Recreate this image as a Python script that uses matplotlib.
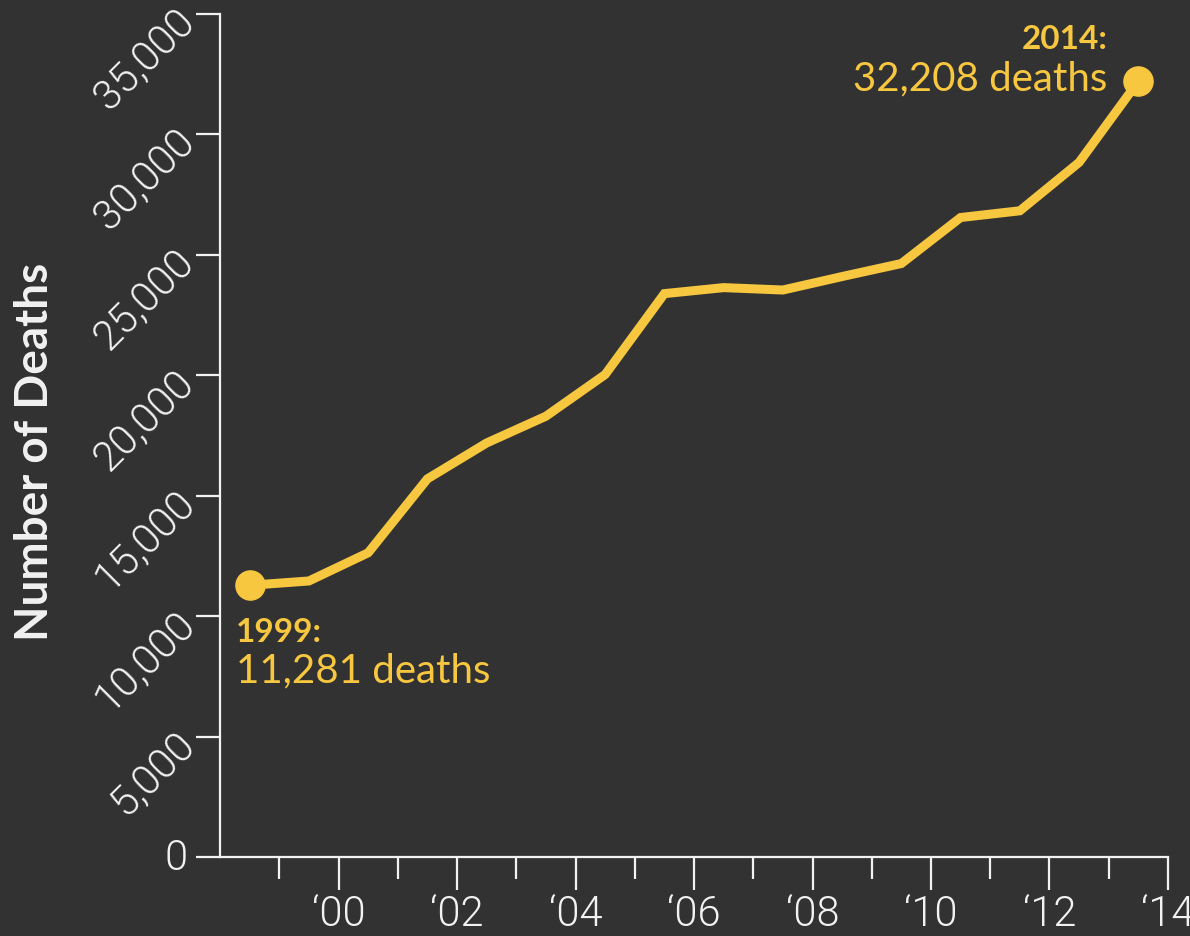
import matplotlib
matplotlib.use("Agg")
import matplotlib.pyplot as plt
from matplotlib import font_manager as fm

years = [1999, 2000, 2001, 2002, 2003, 2004, 2005, 2006, 2007,
         2008, 2009, 2010, 2011, 2012, 2013, 2014]
deaths = [11281, 11460, 12630, 15700, 17190, 18300, 20030, 23390, 23640,
          23540, 24100, 24640, 26550, 26830, 28840, 32208]
y_ticks = [0, 5000, 10000, 15000, 20000, 25000, 30000, 35000]
y_tick_labels = ["0", "5,000", "10,000", "15,000", "20,000", "25,000", "30,000", "35,000"]
x_major = [2000, 2002, 2004, 2006, 2008, 2010, 2012, 2014]
x_major_labels = ["\u201800", "\u201802", "\u201804", "\u201806", "\u201808", "\u201810", "\u201812", "\u201814"]
x_minor = [1999, 2001, 2003, 2005, 2007, 2009, 2011, 2013]

BG = "#323232"
YEL = "#F7C740"
FG = "#F2F2F2"

names = {f.name for f in fm.fontManager.ttflist}
tick_fam = "Roboto" if "Roboto" in names else "DejaVu Sans"
fam = "Lato" if "Lato" in names else "DejaVu Sans"

fig = plt.figure(figsize=(11.9, 9.37), dpi=100, facecolor=BG)
ax = fig.add_axes([0.1849, 0.0843, 0.9815 - 0.1849, 0.984 - 0.0843])
ax.set_facecolor(BG)

xs = [y - 0.5 for y in years]
ax.plot(xs, deaths, color=YEL, lw=6.5, solid_joinstyle="miter", zorder=3)
ax.plot([xs[0], xs[-1]], [deaths[0], deaths[-1]], "o", color=YEL, ms=21, zorder=4)

ax.set_xlim(1998, 2014)
ax.set_ylim(0, 35000)

for s in ["top", "right"]:
    ax.spines[s].set_visible(False)
for s in ["left", "bottom"]:
    ax.spines[s].set_color(FG)
    ax.spines[s].set_linewidth(1.6)

ax.set_yticks(y_ticks)
ax.set_yticklabels(y_tick_labels, rotation=45, ha="right", va="center",
                   rotation_mode="anchor", fontfamily=tick_fam, fontweight=300,
                   fontsize=30, color=FG)
ax.get_yticklabels()[0].set_rotation(0)
ax.tick_params(axis="y", length=17, width=1.6, color=FG, pad=6, direction="out")

ax.set_xticks(x_major)
ax.set_xticklabels(x_major_labels, fontfamily=tick_fam, fontweight=300,
                   fontsize=30, color=FG)
ax.set_xticks(x_minor, minor=True)
ax.tick_params(axis="x", which="major", length=24, width=1.6, color=FG, pad=2)
ax.tick_params(axis="x", which="minor", length=16, width=1.6, color=FG)

fig.text(0.029, 0.5176, "Number of Deaths", rotation=90, ha="center", va="center",
         fontfamily=fam, fontweight="bold", fontsize=33, color=FG)

ax.annotate("2014:", xy=(xs[-1], deaths[-1]), xytext=(-22, 31), textcoords="offset points",
            ha="right", va="center", fontfamily=fam, fontweight="bold", fontsize=24, color=YEL)
ax.annotate("32,208 deaths", xy=(xs[-1], deaths[-1]), xytext=(-22, 2), textcoords="offset points",
            ha="right", va="center", fontfamily=fam, fontsize=29, color=YEL)
ax.annotate("1999:", xy=(xs[0], deaths[0]), xytext=(-10, -33), textcoords="offset points",
            ha="left", va="center", fontfamily=fam, fontweight="bold", fontsize=24, color=YEL)
ax.annotate("11,281 deaths", xy=(xs[0], deaths[0]), xytext=(-10, -61), textcoords="offset points",
            ha="left", va="center", fontfamily=fam, fontsize=29, color=YEL)

fig.savefig("out.png", dpi=100, facecolor=BG)
